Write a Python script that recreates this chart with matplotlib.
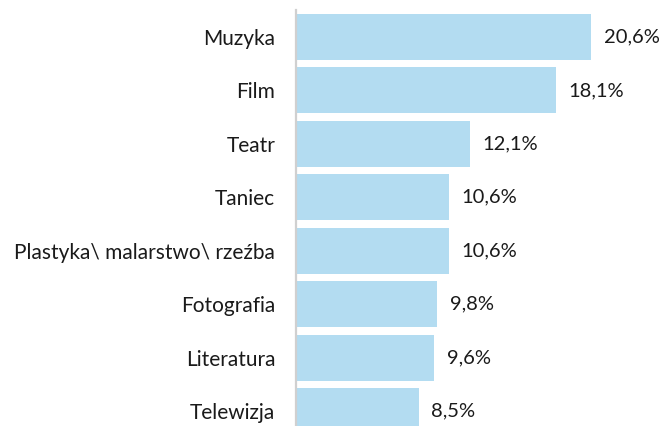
import matplotlib.pyplot as plt

kategorie = ['Muzyka', 'Film', 'Teatr', 'Taniec', 'Plastyka\\ malarstwo\\ rzeźba',
             'Fotografia', 'Literatura', 'Telewizja']
udzialy = [20.6, 18.1, 12.1, 10.6, 10.6, 9.8, 9.6, 8.5]
etykiety = ['20,6%', '18,1%', '12,1%', '10,6%', '10,6%', '9,8%', '9,6%', '8,5%']

plt.rcParams['font.family'] = ['Lato', 'DejaVu Sans']

fig = plt.figure(figsize=(6.66, 4.26), dpi=100)
ax = fig.add_axes([296 / 666, 0, 1 - 296 / 666, 416 / 426])

y = list(range(len(kategorie)))
ax.barh(y, udzialy, height=0.86, color='#b3dcf1', left=0.1)

for yi, v, txt in zip(y, udzialy, etykiety):
    ax.annotate(txt, (v + 0.1, yi), xytext=(9, 0), textcoords='offset points',
                va='center', ha='left', fontsize=14.5, color='#1a1a1a')

ax.set_xlim(0, 25.93)
ax.set_ylim(7.28, -0.506)
ax.set_yticks(y)
ax.set_yticklabels(kategorie, fontsize=15, color='#1a1a1a')
ax.tick_params(axis='y', length=0, pad=15)
ax.set_xticks([])

for s in ['top', 'right', 'bottom']:
    ax.spines[s].set_visible(False)
ax.spines['left'].set_color('#d0d0d0')
ax.spines['left'].set_linewidth(1.6)

fig.savefig('out.png', dpi=100)
